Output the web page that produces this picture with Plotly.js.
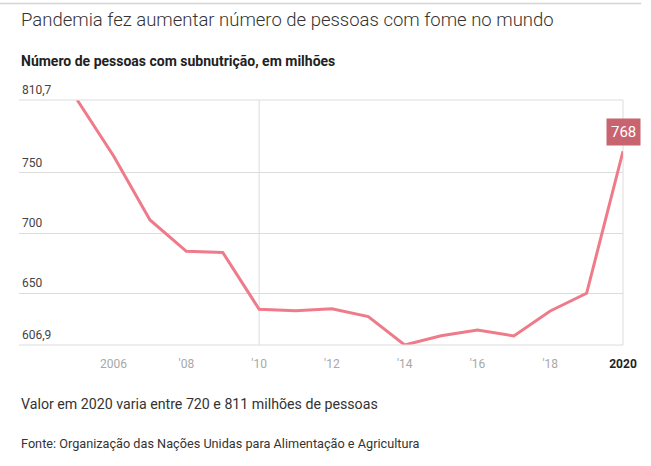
<!DOCTYPE html>
<html><head><meta charset="utf-8">
<script src="https://cdn.plot.ly/plotly-3.0.1.min.js"></script>
<style>html,body{margin:0;padding:0;background:#fff;}#chart{width:651px;height:466px;}</style>
</head><body><div id="chart"></div>
<script>
const years = [2005,2006,2007,2008,2009,2010,2011,2012,2013,2014,2015,2016,2017,2018,2019,2020];
const undernourished = [810.7,764.1,710.9,684.8,683.9,636.6,635.4,637.1,630.5,606.9,614.6,619.4,614.4,635.2,649.9,768.0];
const yTickVals = [606.9,650,700,750,810.7];
const yTickText = ['606,9','650','700','750','810,7'];
const xTickVals = [2006,2008,2010,2012,2014,2016,2018,2020];
const xTickText = ['2006',"'08","'10","'12","'14","'16","'18",'<b><span style="color:#222">2020</span></b>'];
const lastLabel = '768';

const FONT = 'Roboto, sans-serif';
const lastX = years[years.length-1], lastY = undernourished[undernourished.length-1];
const yMin = yTickVals[0], yMax = yTickVals[yTickVals.length-1];
const GRID = '#dcdcdc';

const trace = {
  x: years, y: undernourished, type: 'scatter', mode: 'lines',
  line: {color: '#ef7b8a', width: 3}, cliponaxis: false, hoverinfo: 'skip'
};

const yLabelAnns = yTickVals.map((v, i) => ({
  text: yTickText[i], xref: 'paper', yref: 'y', x: 0.002, y: v, xanchor: 'left', yanchor: 'bottom',
  yshift: 1, showarrow: false, font: {size: 12, color: '#444', family: FONT}
}));

// plot frame: range spans exactly yMin..yMax, so paper 0/1 are those values
const frameLines = [
  {type: 'line', xref: 'paper', yref: 'paper', x0: 0, x1: 1, y0: 0, y1: 0, line: {color: GRID, width: 1}, layer: 'above'},
  {type: 'line', xref: 'paper', yref: 'paper', x0: 0, x1: 1, y0: 1, y1: 1, line: {color: GRID, width: 1}, layer: 'above'},
  {type: 'line', xref: 'paper', yref: 'paper', x0: 1, x1: 1, y0: 0, y1: 1, line: {color: GRID, width: 1}, layer: 'below'},
  {type: 'line', xref: 'x', yref: 'paper', x0: 2010, x1: 2010, y0: 0, y1: 1, line: {color: GRID, width: 1}, layer: 'below'},
  {type: 'line', xref: 'paper', yref: 'paper', x0: -0.04, x1: 1.03, y0: 1.394, y1: 1.394, line: {color: '#d4d4d4', width: 1.5}}
];

const layout = {
  width: 651, height: 466,
  margin: {l: 19, r: 28, t: 100, b: 121},
  paper_bgcolor: '#fff', plot_bgcolor: 'rgba(0,0,0,0)',
  showlegend: false,
  font: {family: FONT, color: '#333'},
  xaxis: {
    range: [2003.4, lastX], tickvals: xTickVals, ticktext: xTickText,
    showgrid: false, zeroline: false, showline: false, ticks: '',
    tickfont: {size: 12, color: '#a8a8a8', family: FONT}, ticklabelstandoff: 10, fixedrange: true
  },
  yaxis: {
    range: [yMin, yMax], tickvals: yTickVals, ticktext: yTickText,
    showgrid: true, gridcolor: GRID, gridwidth: 1, zeroline: false, showline: false,
    ticks: '', showticklabels: false, fixedrange: true
  },
  shapes: frameLines,
  annotations: yLabelAnns.concat([
    {text: 'Pandemia fez aumentar número de pessoas com fome no mundo', xref: 'paper', yref: 'paper', x: 0, y: 1.328, xanchor: 'left', yanchor: 'middle', showarrow: false, font: {size: 18.5, color: '#333', family: FONT, weight: 300}},
    {text: '<b>Número de pessoas com subnutrição, em milhões</b>', xref: 'paper', yref: 'paper', x: 0, y: 1.159, xanchor: 'left', yanchor: 'middle', showarrow: false, font: {size: 14, color: '#222', family: FONT}},
    {text: 'Valor em 2020 varia entre 720 e 811 milhões de pessoas', xref: 'paper', yref: 'paper', x: 0, y: -0.241, xanchor: 'left', yanchor: 'middle', showarrow: false, font: {size: 14.2, color: '#333', family: FONT}},
    {text: 'Fonte: Organização das Nações Unidas para Alimentação e Agricultura', xref: 'paper', yref: 'paper', x: 0, y: -0.404, xanchor: 'left', yanchor: 'middle', showarrow: false, font: {size: 12.7, color: '#333', family: FONT}},
    {text: lastLabel, x: lastX, y: lastY, xref: 'x', yref: 'y', showarrow: false, yshift: 19, xanchor: 'center', yanchor: 'middle', bgcolor: '#c8646f', borderpad: 4, font: {size: 15, color: '#fff', family: FONT}}
  ])
};

Plotly.newPlot('chart', [trace], layout, {staticPlot: true, displayModeBar: false});
</script></body></html>
